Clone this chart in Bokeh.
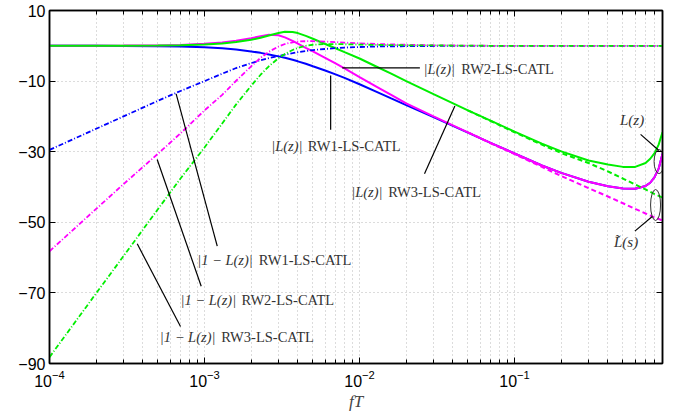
from bokeh.plotting import figure
from bokeh.models import FixedTicker, LogAxis, LinearAxis
from bokeh.core.properties import value
from bokeh.embed import file_html
from bokeh.resources import INLINE

# ---------------- data ----------------
freq = [1e-4, 2e-4, 3e-4, 5e-4, 7e-4, 1e-3, 1.3e-3, 1.6e-3, 2e-3, 2.3e-3, 2.6e-3,
        3e-3, 3.3e-3, 3.7e-3, 4e-3, 4.5e-3, 5e-3, 6e-3, 7e-3, 8e-3, 1e-2, 1.3e-2,
        1.6e-2, 2e-2, 3e-2, 5e-2, 0.07, 0.1, 0.15, 0.2, 0.3, 0.4, 0.5, 0.6, 0.7,
        0.75, 0.8, 0.85, 0.9]

# |L(z)| (solid)
rw1_L = [0.0, 0.0, -0.04, -0.1, -0.2, -0.4, -0.7, -1.05, -1.6, -2.0, -2.45,
         -3.0, -3.4, -3.95, -4.4, -5.1, -5.8, -7.0, -8.1, -9.1, -10.9, -13.1,
         -14.9, -16.8, -20.2, -24.6, -27.5, -30.5, -33.9, -36.0, -38.5, -39.8, -40.4, -40.5, -39.7,
         -38.8, -37.2, -34.8, -30.6]
rw2_L = [0.0, 0.02, 0.05, 0.12, 0.25, 0.55, 0.95, 1.45, 2.15, 2.7, 3.1,
         3.0, 2.4, 1.4, 0.6, -0.6, -1.6, -3.4, -5.0, -6.4, -8.9, -11.7,
         -13.9, -16.3, -20.0, -24.5, -27.5, -30.5, -33.9, -36.0, -38.5, -39.8, -40.4, -40.5, -39.7,
         -38.8, -37.2, -34.8, -30.6]
rw3_L = [0.0, 0.01, 0.03, 0.08, 0.15, 0.35, 0.65, 1.05, 1.7, 2.3, 2.9,
         3.6, 3.95, 3.9, 3.6, 2.8, 2.0, 0.5, -0.7, -1.8, -3.6, -6.0,
         -7.9, -10.0, -13.7, -18.3, -21.2, -24.3, -27.7, -29.9, -32.5, -33.6, -34.3, -34.3, -33.2,
         -32.0, -30.4, -28.0, -24.5]

# |1 - L(z)| (dash-dot)
rw1_N = [-29.5, -23.5, -20.0, -15.6, -12.8, -10.0, -7.9, -6.3, -4.9, -4.1, -3.5,
         -2.9, -2.5, -2.1, -1.8, -1.5, -1.2, -0.9, -0.65, -0.5, -0.35, -0.2,
         -0.15, -0.1, -0.05, 0.0, 0.0, 0.0, 0.0, 0.0, 0.0, 0.0, 0.0, 0.0, 0.0,
         0.0, 0.0, 0.0, 0.0]
rw2_N = [-58.2, -46.2, -39.2, -30.6, -24.8, -18.3, -13.9, -9.9, -5.8, -3.4, -1.7,
         -0.2, 0.5, 1.0, 1.2, 1.3, 1.3, 1.2, 1.05, 0.9, 0.7, 0.5,
         0.4, 0.3, 0.15, 0.05, 0.0, 0.0, 0.0, 0.0, 0.0, 0.0, 0.0, 0.0, 0.0,
         0.0, 0.0, 0.0, 0.0]
rw3_N = [-88.2, -70.1, -59.6, -46.3, -37.6, -28.8, -22.0, -16.6, -11.3, -8.2, -5.8,
         -3.5, -2.3, -1.2, -0.6, 0.0, 0.3, 0.5, 0.5, 0.45, 0.35, 0.25,
         0.2, 0.15, 0.1, 0.05, 0.0, 0.0, 0.0, 0.0, 0.0, 0.0, 0.0, 0.0, 0.0,
         0.0, 0.0, 0.0, 0.0]

# continuous-time approximation L~(s) (dashed)
freq_s = [0.05, 0.07, 0.1, 0.15, 0.2, 0.3, 0.4, 0.5, 0.6, 0.7, 0.8, 0.9]
rw2_Ls = [-24.5, -27.6, -30.7, -34.3, -36.9, -40.3, -42.7, -44.6, -46.2, -47.5, -48.6, -49.5]
rw3_Ls = [-18.3, -21.3, -24.5, -28.0, -30.4, -33.2, -35.6, -37.6, -39.3, -40.7, -42.0, -43.0]

x_ticks = [1e-4, 1e-3, 1e-2, 1e-1]
x_minor = [m * d for d in [1e-4, 1e-3, 1e-2, 1e-1] for m in range(2, 10)]
y_ticks = [-90, -70, -50, -30, -10, 10]

# annotations
math_x = [0.0259, 2.69e-3, 8.84e-3, 8.97e-4, 7.0e-4, 5.15e-4]
name_x = [0.0453, 4.64e-3, 0.01531, 2.24e-3, 1.733e-3, 1.282e-3]
lab_y = [-6.7, -28.4, -41.5, -60.8, -71.9, -82.55]
math_text = ["|L(z)|", "|L(z)|", "|L(z)|", "|1 − L(z)|", "|1 − L(z)|", "|1 − L(z)|"]
name_text = ["RW2-LS-CATL", "RW1-LS-CATL", "RW3-LS-CATL",
             "RW1-LS-CATL", "RW2-LS-CATL", "RW3-LS-CATL"]
lead_x0 = [7.73e-3, 6.51e-3, 0.02624, 6.56e-4, 4.95e-4, 3.68e-4, 0.650, 0.597]
lead_y0 = [-6.23, -8.41, -36.26, -13.6, -32.2, -56.1, -25.1, -52.5]
lead_x1 = [0.0245, 6.51e-3, 0.0412, 1.208e-3, 9.52e-4, 7.0e-4, 0.853, 0.773]
lead_y1 = [-6.23, -23.8, -17.05, -56.77, -68.1, -79.5, -29.66, -48.36]
tag_x = [0.573, 0.524]
tag_y = [-20.9, -55.6]
tag_text = ["L(z)", "L\u0303(s)"]
ell_x = [0.8555, 0.812]
ell_y = [-32.8, -45.1]
ell_w = [10, 10]
ell_h = [24, 31]

# ---------------- figure ----------------
p = figure(width=680, height=415, x_axis_type="log", x_range=(1e-4, 0.9), y_range=(-90, 10),
           output_backend="svg", toolbar_location=None,
           min_border_left=49, min_border_right=18, min_border_top=10, min_border_bottom=52,
           background_fill_color="white", border_fill_color="white")
p.outline_line_color = "black"
p.outline_line_width = 1.5

p.xaxis.ticker = FixedTicker(ticks=x_ticks, minor_ticks=x_minor)
p.yaxis.ticker = FixedTicker(ticks=y_ticks)

for ax in [p.xaxis[0], p.yaxis[0]]:
    ax.axis_line_color = "black"
    ax.axis_line_width = 1.5
    ax.major_tick_in = 6
    ax.major_tick_out = 0
    ax.minor_tick_in = 4
    ax.minor_tick_out = 0
    ax.major_tick_line_color = "black"
    ax.minor_tick_line_color = "black"
    ax.major_label_text_font = "Liberation Sans"
    ax.major_label_text_font_size = "16px"
    ax.major_label_text_color = "black"
    ax.major_label_standoff = 4
p.yaxis.minor_tick_line_color = None
p.xaxis.major_label_standoff = 6
p.xaxis.axis_label = "fT"
p.xaxis.axis_label_text_font = "Liberation Serif"
p.xaxis.axis_label_text_font_style = "italic"
p.xaxis.axis_label_text_font_size = "17px"
p.xaxis.axis_label_standoff = 2

top = LogAxis(ticker=FixedTicker(ticks=x_ticks, minor_ticks=x_minor),
              major_label_text_font_size="1px", major_label_text_alpha=0,
              major_label_standoff=0,
              major_tick_in=6, major_tick_out=0, minor_tick_in=4, minor_tick_out=0,
              axis_line_width=1.5)
right = LinearAxis(ticker=FixedTicker(ticks=y_ticks),
                   major_label_text_font_size="1px", major_label_text_alpha=0,
                   major_label_standoff=0,
                   major_tick_in=6, major_tick_out=0, minor_tick_line_color=None,
                   axis_line_width=1.5)
p.add_layout(top, "above")
p.add_layout(right, "right")

for g in [p.xgrid[0], p.ygrid[0]]:
    g.grid_line_color = "#b8b8b8"
    g.grid_line_dash = "1 3"
    g.grid_line_width = 1
p.xgrid.minor_grid_line_color = "#b8b8b8"
p.xgrid.minor_grid_line_dash = "1 3"

# curves
p.line(freq, rw1_L, line_color="#0000ff", line_width=2)
p.line(freq, rw2_L, line_color="#ff00ff", line_width=2)
p.line(freq, rw3_L, line_color="#00ee00", line_width=2)
p.line(freq_s, rw2_Ls, line_color="#ff00ff", line_width=2, line_dash="5 3")
p.line(freq_s, rw3_Ls, line_color="#00ee00", line_width=2, line_dash="5 3")
p.line(freq, rw1_N, line_color="#0000ff", line_width=1.8, line_dash="5 2 1 2")
p.line(freq, rw2_N, line_color="#ff00ff", line_width=1.8, line_dash="5 2 1 2")
p.line(freq, rw3_N, line_color="#00ee00", line_width=1.8, line_dash="5 2 1 2")

# annotations
p.segment(x0=lead_x0, y0=lead_y0, x1=lead_x1, y1=lead_y1, line_color="black", line_width=1.2)
p.ellipse(x=ell_x, y=ell_y, width=ell_w, height=ell_h, width_units="screen",
          height_units="screen", fill_color=None, line_color="#333333", line_width=1)
p.text(x=math_x, y=lab_y, text=math_text, text_font=value("Liberation Serif"),
       text_font_size="14.5px", text_font_style="italic", text_baseline="middle",
       text_align="left", text_color="#333333")
p.text(x=name_x, y=lab_y, text=name_text, text_font=value("Liberation Serif"),
       text_font_size="14.5px", text_baseline="middle", text_align="left", text_color="#333333")
p.text(x=tag_x, y=tag_y, text=tag_text, text_font=value("Liberation Serif"),
       text_font_size="15px", text_font_style="italic", text_baseline="middle",
       text_align="center", text_color="#333333")

open("out.html", "w").write(file_html(p, INLINE))
